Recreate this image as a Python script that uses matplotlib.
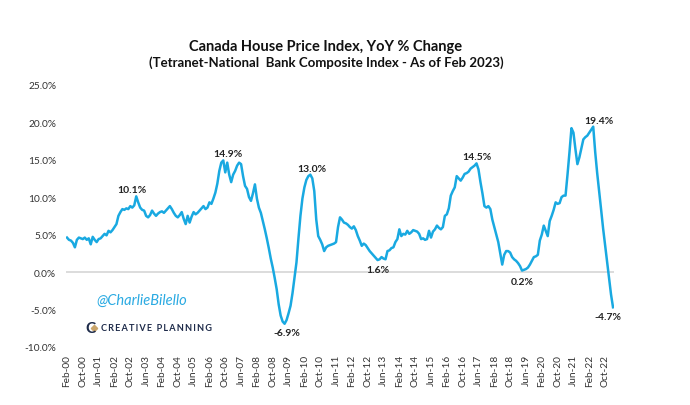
import matplotlib
matplotlib.use("Agg")
import matplotlib.pyplot as plt
from matplotlib.lines import Line2D
import pandas as pd

plt.rcParams['font.family'] = ['Lato', 'DejaVu Sans']

# YoY % change, monthly Feb-2000 .. Feb-2023
y2000 = [4.6, 4.3, 4.2, 3.9, 3.3, 4.3, 4.6, 4.5, 4.4, 4.6, 4.3]
y2001 = [4.5, 3.7, 4.7, 4.3, 4.0, 4.4, 4.5, 4.8, 5.1, 4.9, 5.5, 5.3]
y2002 = [5.6, 6.0, 6.4, 7.5, 8.0, 8.4, 8.3, 8.5, 8.4, 8.8, 8.6, 8.9]
y2003 = [10.1, 9.3, 8.6, 8.3, 8.2, 7.5, 7.3, 7.6, 8.2, 7.8, 7.5, 7.8]
y2004 = [8.0, 8.1, 7.9, 8.2, 8.5, 8.8, 8.4, 7.9, 7.5, 7.3, 7.6, 8.0]
y2005 = [7.1, 6.4, 7.5, 6.6, 7.4, 8.0, 7.7, 7.9, 8.2, 8.5, 8.8, 8.4]
y2006 = [8.6, 9.3, 9.1, 9.8, 10.6, 11.8, 13.5, 14.6, 14.9, 13.3, 14.6, 13.0]
y2007 = [12.0, 13.0, 13.5, 14.2, 14.6, 14.4, 12.8, 11.5, 11.1, 10.0, 9.5, 10.5]
y2008 = [11.7, 9.8, 8.6, 7.9, 6.8, 5.7, 4.5, 3.2, 1.8, 0.6, -0.8, -2.3]
y2009 = [-4.3, -5.8, -6.6, -6.9, -6.4, -5.5, -4.5, -2.8, -0.8, 1.3, 4.5, 7.5]
y2010 = [9.8, 11.3, 12.3, 12.8, 13.0, 12.5, 10.8, 7.0, 4.8, 4.3, 3.7, 2.8]
y2011 = [3.3, 3.5, 3.6, 3.7, 3.8, 4.0, 6.0, 7.3, 7.0, 6.6, 6.5, 6.3]
y2012 = [6.0, 5.8, 6.1, 5.6, 4.8, 4.2, 3.5, 3.8, 3.6, 3.2, 2.8, 2.5]
y2013 = [2.2, 1.9, 1.6, 1.7, 2.0, 1.8, 1.7, 2.8, 2.9, 3.2, 3.3, 4.0]
y2014 = [4.4, 5.7, 4.8, 5.1, 5.0, 5.5, 5.1, 5.3, 5.6, 5.5, 5.4, 5.1]
y2015 = [4.4, 4.5, 4.3, 4.4, 5.5, 4.6, 5.4, 5.7, 6.2, 5.9, 5.7, 6.0]
y2016 = [7.5, 7.7, 8.5, 10.2, 10.8, 11.3, 12.8, 12.5, 12.2, 12.6, 13.1, 13.2]
y2017 = [13.4, 13.8, 14.0, 14.2, 14.5, 13.7, 12.0, 10.5, 8.8, 8.6, 8.8, 8.4]
y2018 = [7.0, 6.0, 5.0, 4.0, 2.5, 1.0, 2.3, 2.8, 2.8, 2.6, 2.0, 1.7]
y2019 = [1.5, 1.2, 0.8, 0.2, 0.3, 0.4, 0.6, 1.0, 1.5, 2.0, 2.1, 2.3]
y2020 = [4.2, 5.0, 6.2, 5.5, 4.8, 6.8, 7.5, 8.3, 9.3, 9.1, 9.2, 10.0]
y2021 = [10.2, 10.2, 13.0, 16.0, 19.2, 18.6, 16.4, 14.4, 15.3, 16.5, 17.7, 18.0]
y2022 = [18.2, 18.6, 19.0, 19.4, 16.0, 13.2, 10.8, 8.3, 5.8, 3.6, 1.5, -0.7]
y2023 = [-3.0, -4.7]

values = (y2000 + y2001 + y2002 + y2003 + y2004 + y2005 + y2006 + y2007 + y2008
          + y2009 + y2010 + y2011 + y2012 + y2013 + y2014 + y2015 + y2016 + y2017
          + y2018 + y2019 + y2020 + y2021 + y2022 + y2023)
dates = pd.date_range("2000-02-01", periods=len(values), freq="MS")
s = pd.Series(values, index=dates)

# labelled highs / lows: (window start, window end, max or min)
marks = [("2002-06", "2003-06", "max"), ("2006-01", "2007-12", "max"),
         ("2008-06", "2009-12", "min"), ("2010-01", "2010-12", "max"),
         ("2012-06", "2013-12", "min"), ("2016-06", "2017-12", "max"),
         ("2019-01", "2019-12", "min"), ("2021-01", "2022-12", "max"),
         ("2023-02", "2023-02", "min")]
offsets = [(-3, 2), (3, 1.5), (1.5, -3), (1, 1.5), (0, -3.5), (0.5, 1.5),
           (0.5, -4.5), (4.2, 1.5), (-4, -3.5)]

fig = plt.figure(figsize=(6.9, 4.06), dpi=100)
ax = fig.add_axes([66 / 690, 58 / 406, 548 / 690, 262.3 / 406])

x = range(len(s))
ax.axhline(0, color="#D9D9D9", lw=1.3, zorder=1)
ax.plot(x, s.values, color="#19A9E1", lw=1.8, zorder=2)

for (a, b, kind), off in zip(marks, offsets):
    w = s[a:b]
    d = w.idxmax() if kind == "max" else w.idxmin()
    i = s.index.get_loc(d)
    ax.annotate(f"{s[d]:.1f}%", (i, s[d]), xytext=off, textcoords="offset points",
                ha="center", va="bottom" if kind == "max" else "top",
                fontsize=7.5, fontweight="bold", color="#222222")

ax.set_xlim(-0.5, len(s) - 0.5)
ax.set_ylim(-10, 25)
ax.set_yticks(range(-10, 26, 5))
ax.set_yticklabels([f"{v:.1f}%" for v in range(-10, 26, 5)])
ticks = list(range(0, len(s), 8))
ax.set_xticks(ticks)
ax.set_xticklabels([dates[i].strftime("%b-%y") for i in ticks], rotation=90)
ax.tick_params(axis="both", length=0, labelsize=7.3, colors="#333333")
ax.tick_params(axis="y", pad=7)
ax.tick_params(axis="x", pad=5)
for sp in ax.spines.values():
    sp.set_visible(False)

fig.text(0.472, 1 - 47 / 406, "Canada House Price Index, YoY % Change",
         ha="center", va="center", fontsize=10.5, fontweight="bold", color="#111111")
fig.text(0.473, 1 - 63 / 406, "(Tetranet-National  Bank Composite Index - As of Feb 2023)",
         ha="center", va="center", fontsize=9.5, fontweight="bold", color="#111111")

fig.text(96 / 690, 1 - 301 / 406, "@CharlieBilello", ha="left", va="center",
         fontsize=10.5, style="italic", color="#2AAAE2")

# Creative Planning logo
fig.text(85 / 690, 1 - 329 / 406, "C", ha="left", va="center",
         fontsize=11, fontweight="bold", color="#1E2B4A")
fig.add_artist(Line2D([93.5 / 690], [1 - 329 / 406], marker="D", markersize=3.2,
                      color="#C9A46A", transform=fig.transFigure))
fig.text(101 / 690, 1 - 329 / 406, "\u2009".join("CREATIVE PLANNING"), ha="left",
         va="center", fontsize=6.6, fontweight="bold", color="#1E2B4A")

fig.savefig("out.png", dpi=100)
